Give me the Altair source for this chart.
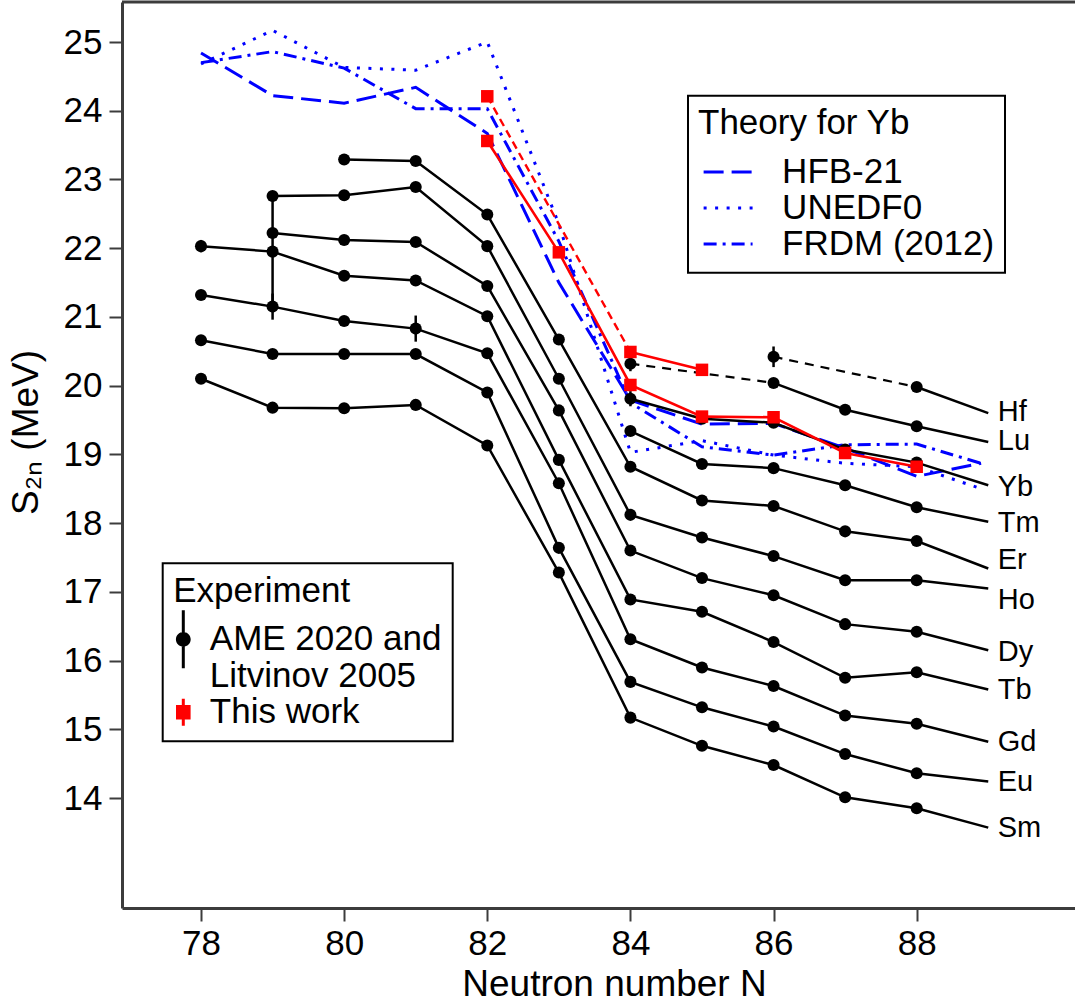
import altair as alt
import pandas as pd

FONT = "Liberation Sans, Arial, Helvetica, sans-serif"
AXIS_GREY = "#3c3c3c"

# ---------------- data ----------------
ELEMENTS = ["Sm", "Eu", "Gd", "Tb", "Dy", "Ho", "Er", "Tm", "Yb", "Lu", "Hf"]
N_VALUES = [78, 79, 80, 81, 82, 83, 84, 85, 86, 87, 88]

S2N_SM = [20.10, 19.68, 19.67, 19.72, 19.13, 17.28, 15.17, 14.76, 14.48, 14.01, 13.85]
S2N_EU = [20.66, 20.46, 20.46, 20.46, 19.90, 17.64, 15.69, 15.32, 15.04, 14.64, 14.36]
S2N_GD = [21.32, 21.15, 20.94, 20.83, 20.47, 18.58, 16.31, 15.90, 15.63, 15.20, 15.08]
S2N_TB = [22.03, 21.95, 21.60, 21.53, 21.01, 18.92, 16.89, 16.71, 16.27, 15.75, 15.83]
S2N_DY = [None, 22.22, 22.12, 22.09, 21.45, 19.64, 17.60, 17.20, 16.95, 16.53, 16.42]
S2N_HO = [None, 22.76, 22.77, 22.89, 22.03, 20.10, 18.12, 17.79, 17.52, 17.17, 17.17]
S2N_ER = [None, None, 23.29, 23.27, 22.49, 20.67, 18.82, 18.33, 18.25, 17.88, 17.74]
S2N_TM = [None, None, None, None, None, None, 19.34, 18.86, 18.80, 18.55, 18.23]
S2N_YB = [None, None, None, None, None, None, 19.81, 19.52, 19.46, 19.07, 18.88]
S2N_LU = [None, None, None, None, None, None, 20.32, None, 20.04, 19.65, 19.41]
S2N_HF = [None, None, None, None, None, None, None, None, 20.42, None, 19.98]

# end of each curve, and where the element name is written
N_END = 89
S2N_END = [13.57, 14.24, 14.82, 15.58, 16.15, 17.05, 17.34, 18.02, 18.55, 19.18, 19.60]
LABEL_S2N = [13.56, 14.23, 14.81, 15.57, 16.12, 16.88, 17.46, 18.00, 18.53, 19.19, 19.61]

# experimental uncertainties that are visible
ERR_ELEMENT = ["Tb", "Tb", "Gd", "Gd", "Lu", "Yb", "Hf"]
ERR_N = [78, 79, 79, 81, 84, 84, 86]
ERR_SIZE = [0.09, 0.87, 0.19, 0.19, 0.11, 0.11, 0.15]

# this work (red)
TW_YB_N = [82, 83, 84, 85, 86, 87, 88]
TW_YB = [23.56, 21.94, 20.01, 19.55, 19.54, 19.02, 18.82]
TW_LU_N = [82, 84, 85]
TW_LU = [24.21, 20.49, 20.23]

# theory for Yb (blue)
TH_N = [78, 79, 80, 81, 82, 83, 84, 85, 86, 87, 88, 88.9]
HFB21 = [24.84, 24.22, 24.11, 24.34, 23.67, 21.50, 19.79, 19.44, 19.45, 19.09, 18.68, 18.87]
UNEDF0 = [24.68, 25.17, 24.63, 24.59, 25.00, 22.35, 19.03, 19.20, 18.99, 18.87, 18.82, 18.50]
FRDM = [24.70, 24.86, 24.62, 24.03, 24.03, 22.10, 19.75, 19.11, 18.99, 19.14, 19.15, 18.87]
MODELS = ["HFB-21", "UNEDF0", "FRDM (2012)"]

AME_LABEL = "AME 2020 and|Litvinov 2005"
TW_LABEL = "This work"

X_DOMAIN = [76.896, 90.212]
Y_DOMAIN = [12.40, 25.582]
X_TICKS = [78, 80, 82, 84, 86, 88]
Y_TICKS = [14, 15, 16, 17, 18, 19, 20, 21, 22, 23, 24, 25]

# ---------------- tables ----------------
S2N_BY_EL = dict(zip(ELEMENTS, [S2N_SM, S2N_EU, S2N_GD, S2N_TB, S2N_DY, S2N_HO,
                                S2N_ER, S2N_TM, S2N_YB, S2N_LU, S2N_HF]))
END_BY_EL = dict(zip(ELEMENTS, S2N_END))


def split_runs(key, pts):
    solid, bridge = [], []
    run = 0
    for i, (n, v) in enumerate(pts):
        if i > 0 and n - pts[i - 1][0] > 1:
            pn, pv = pts[i - 1]
            bridge.append({"seg": f"{key}-b{i}", "N": pn, "S2n": pv})
            bridge.append({"seg": f"{key}-b{i}", "N": n, "S2n": v})
            run += 1
        solid.append({"seg": f"{key}-{run}", "N": n, "S2n": v})
    return solid, bridge


black_solid, black_bridge, black_pts = [], [], []
for el in ELEMENTS:
    pts = [(n, v) for n, v in zip(N_VALUES, S2N_BY_EL[el]) if v is not None]
    for n, v in pts:
        black_pts.append({"el": el, "N": n, "S2n": v})
    s, b = split_runs(el, pts + [(N_END, END_BY_EL[el])])
    black_solid += s
    black_bridge += b

red_solid, red_bridge, red_pts = [], [], []
for key, ns, vs in [("Yb", TW_YB_N, TW_YB), ("Lu", TW_LU_N, TW_LU)]:
    pts = list(zip(ns, vs))
    for n, v in pts:
        red_pts.append({"N": n, "S2n": v})
    s, b = split_runs("tw" + key, pts)
    red_solid += s
    red_bridge += b

err_rows = []
for el, n, e in zip(ERR_ELEMENT, ERR_N, ERR_SIZE):
    c = S2N_BY_EL[el][N_VALUES.index(n)]
    err_rows.append({"N": n, "S2n": c - e, "hi": c + e})

theory = pd.DataFrame({
    "N": TH_N * 3,
    "S2n": HFB21 + UNEDF0 + FRDM,
    "model": [MODELS[0]] * len(TH_N) + [MODELS[1]] * len(TH_N) + [MODELS[2]] * len(TH_N),
})
labels = pd.DataFrame({"el": ELEMENTS, "N": [N_END] * len(ELEMENTS), "S2n": LABEL_S2N})
legend_src = pd.DataFrame({"N": [80, 80], "S2n": [20, 20], "source": [AME_LABEL, TW_LABEL]})
frame = pd.DataFrame({"N": [X_DOMAIN[0]], "N2": [X_DOMAIN[1]], "S2n": [Y_DOMAIN[1]]})

# ---------------- encodings ----------------
x_axis = alt.Axis(values=X_TICKS, format="d", title="Neutron number N", grid=False,
                  domainColor=AXIS_GREY, domainWidth=3, tickColor=AXIS_GREY, tickWidth=2,
                  tickSize=13, labelFontSize=35, labelFont=FONT, labelColor="black",
                  labelPadding=5, titleFontSize=37, titleFont=FONT, titleFontWeight="normal",
                  titleColor="black", titlePadding=5, titleX=492)
y_axis = alt.Axis(values=Y_TICKS, format="d", title="S\u2082\u2099 (MeV)", grid=False,
                  domainColor=AXIS_GREY, domainWidth=3, tickColor=AXIS_GREY, tickWidth=2,
                  tickSize=13, labelFontSize=35, labelFont=FONT, labelColor="black",
                  labelPadding=7, titleFontSize=37, titleFont=FONT, titleFontWeight="normal",
                  titleColor="black", titlePadding=18, titleY=430)
X = alt.X("N:Q", scale=alt.Scale(domain=X_DOMAIN, nice=False, zero=False), axis=x_axis)
Y = alt.Y("S2n:Q", scale=alt.Scale(domain=Y_DOMAIN, nice=False, zero=False), axis=y_axis)

# legend key for the theory curves: an open horizontal path 49 px long
THEORY_KEY = "M-3.06,0H3.06"

theory_legend = alt.Legend(
    title="Theory for Yb", orient="none", legendX=566, legendY=93.7, direction="vertical",
    padding=10, titleFontSize=35, titleFont=FONT, titleFontWeight="normal", titleColor="black",
    labelFontSize=35, labelFont=FONT, labelColor="black", labelLimit=1000, titleLimit=1000,
    symbolType=THEORY_KEY, symbolSize=256, symbolStrokeWidth=3, symbolStrokeColor="blue",
    symbolFillColor="transparent", symbolOffset=12.6, labelOffset=36.5, rowPadding=-5,
    titlePadding=13.8, strokeColor="black", fillColor="white")

exp_legend = alt.Legend(
    title="Experiment", orient="none", legendX=40.7, legendY=561.3, direction="vertical",
    padding=10.5, titleFontSize=35, titleFont=FONT, titleFontWeight="normal", titleColor="black",
    labelFontSize=35, labelFont=FONT, labelColor="black", labelLimit=1000, titleLimit=1000,
    labelExpr="split(datum.label, '|')", symbolSize=400, symbolStrokeWidth=0,
    symbolOffset=-7.4, labelOffset=9, rowPadding=-2.5, titlePadding=13,
    strokeColor="black", fillColor="white")

PATH_AME = ("M-0.15,-2.9H0.15V2.9H-0.15Z "
            "M-0.74,0A0.74,0.74,0,1,1,0.74,0A0.74,0.74,0,1,1,-0.74,0Z")
PATH_TW = "M-0.15,-1.35H0.15V1.35H-0.15Z M-0.73,-0.73H0.73V0.73H-0.73Z"

# ---------------- layers ----------------
theory_lines = alt.Chart(theory).mark_line(color="blue", strokeWidth=3).encode(
    x=X, y=Y,
    strokeDash=alt.StrokeDash("model:N", scale=alt.Scale(
        domain=MODELS, range=[[20, 8], [3, 8.5], [13, 6, 3, 6]]), legend=theory_legend),
)

black_lines = alt.Chart(pd.DataFrame(black_solid)).mark_line(
    color="black", strokeWidth=2.5).encode(x=X, y=Y, detail="seg:N")
black_dashed = alt.Chart(pd.DataFrame(black_bridge)).mark_line(
    color="black", strokeWidth=2.2, strokeDash=[9, 7]).encode(x=X, y=Y, detail="seg:N")
black_err = alt.Chart(pd.DataFrame(err_rows)).mark_rule(
    color="black", strokeWidth=2.5).encode(x=X, y=Y, y2="hi:Q")
black_points = alt.Chart(pd.DataFrame(black_pts)).mark_circle(
    color="black", size=145, opacity=1).encode(x=X, y=Y)

red_lines = alt.Chart(pd.DataFrame(red_solid)).mark_line(
    color="red", strokeWidth=2.6).encode(x=X, y=Y, detail="seg:N")
red_dashed = alt.Chart(pd.DataFrame(red_bridge)).mark_line(
    color="red", strokeWidth=2.4, strokeDash=[8, 5]).encode(x=X, y=Y, detail="seg:N")
red_points = alt.Chart(pd.DataFrame(red_pts)).mark_square(
    color="red", size=156, opacity=1).encode(x=X, y=Y)

el_labels = alt.Chart(labels).mark_text(
    align="left", baseline="middle", dx=9.5, fontSize=29, font=FONT, color="black"
).encode(x=X, y=Y, text="el:N")

exp_key = alt.Chart(legend_src).transform_filter("false").mark_point(
    filled=True, opacity=1).encode(
    x=X, y=Y,
    color=alt.Color("source:N", scale=alt.Scale(domain=[AME_LABEL, TW_LABEL],
                                                range=["black", "red"]), legend=exp_legend),
    shape=alt.Shape("source:N", scale=alt.Scale(domain=[AME_LABEL, TW_LABEL],
                                                range=[PATH_AME, PATH_TW]), legend=exp_legend),
)

top_frame = alt.Chart(frame).mark_rule(color=AXIS_GREY, strokeWidth=3).encode(
    x=X, x2="N2:Q", y=Y)

chart = alt.layer(
    theory_lines, black_lines, black_dashed, black_err, black_points,
    red_dashed, red_lines, red_points, el_labels, exp_key, top_frame,
).properties(
    width=953, height=906, autosize="none",
    padding={"left": 122, "top": 2, "right": 0, "bottom": 96},
).configure_view(stroke=None).configure_legend(strokeWidth=2)

chart.save("out.html", embed_options={"renderer": "svg", "actions": False})
